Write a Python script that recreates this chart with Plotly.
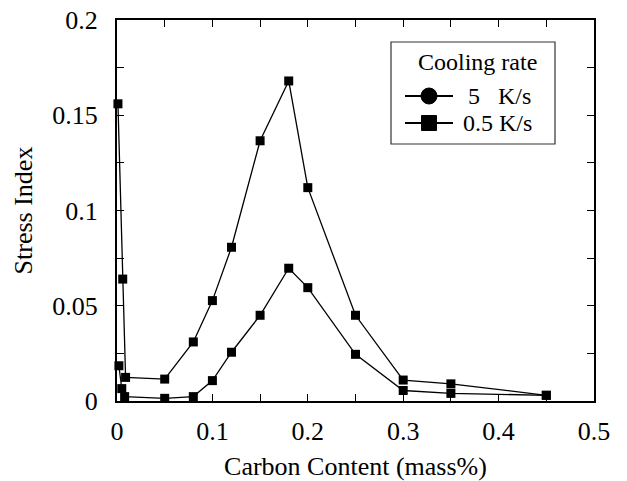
import plotly.graph_objects as go

# Data
x_fast = [0.001, 0.006, 0.009, 0.05, 0.08, 0.10, 0.12, 0.15, 0.18, 0.20, 0.25, 0.30, 0.35, 0.45]
y_fast = [0.156, 0.064, 0.0124, 0.0115, 0.031, 0.0527, 0.0807, 0.1366, 0.168, 0.112, 0.045, 0.011, 0.009, 0.003]
x_slow = [0.002, 0.005, 0.008, 0.05, 0.08, 0.10, 0.12, 0.15, 0.18, 0.20, 0.25, 0.30, 0.35, 0.45]
y_slow = [0.0185, 0.0065, 0.0023, 0.0014, 0.0023, 0.0107, 0.0256, 0.045, 0.0697, 0.0595, 0.0245, 0.0055, 0.004, 0.003]

x_tickvals = [0, 0.05, 0.1, 0.15, 0.2, 0.25, 0.3, 0.35, 0.4, 0.45, 0.5]
x_ticktext = ["0", "", "0.1", "", "0.2", "", "0.3", "", "0.4", "", "0.5"]
y_tickvals = [0, 0.025, 0.05, 0.075, 0.1, 0.125, 0.15, 0.175, 0.2]
y_ticktext = ["0", "", "0.05", "", "0.1", "", "0.15", "", "0.2"]

legend_title = "Cooling rate"
legend_labels = ["5   K/s", "0.5 K/s"]

FONT = "Liberation Serif, Times New Roman, serif"
W, H = 627, 481
L, R, T, B = 117, 33, 20, 80
PW, PH = W - L - R, H - T - B


def px(X):
    return (X - L) / PW


def py(Y):
    return (H - B - Y) / PH


fig = go.Figure()
for xs, ys in [(x_fast, y_fast), (x_slow, y_slow)]:
    fig.add_trace(go.Scatter(x=xs, y=ys, mode="lines+markers",
                             line=dict(color="black", width=1.3),
                             marker=dict(symbol="square", size=9, color="black"),
                             showlegend=False, cliponaxis=False))

axis_common = dict(showline=True, linecolor="black", linewidth=2, mirror="allticks",
                   ticks="inside", ticklen=7, tickwidth=1.3, tickcolor="black",
                   showgrid=False, zeroline=False, automargin=False,
                   tickfont=dict(family=FONT, size=26, color="black"))

fig.update_xaxes(range=[0, 0.5], tickmode="array", tickvals=x_tickvals, ticktext=x_ticktext,
                 ticklabelstandoff=6,
                 title=dict(text="Carbon Content (mass%)", font=dict(family=FONT, size=26, color="black"),
                            standoff=12),
                 **axis_common)
fig.update_yaxes(range=[0, 0.2], tickmode="array", tickvals=y_tickvals, ticktext=y_ticktext,
                 ticklabelstandoff=12,
                 title=dict(text="Stress Index", font=dict(family=FONT, size=26, color="black"),
                            standoff=12),
                 **axis_common)

# Custom legend box (decoration)
shapes = [dict(type="rect", xref="paper", yref="paper",
               x0=px(391), x1=px(555), y0=py(144), y1=py(42),
               line=dict(color="#333333", width=1.2), fillcolor="white", layer="above")]
annotations = [dict(x=px(477), y=py(62), xref="paper", yref="paper", text=legend_title,
                    showarrow=False, xanchor="center", yanchor="middle",
                    font=dict(family=FONT, size=24, color="black"))]
row_y = [96, 123]
for i, (lab, yy) in enumerate(zip(legend_labels, row_y)):
    shapes.append(dict(type="line", xref="paper", yref="paper",
                       x0=px(405), x1=px(453), y0=py(yy), y1=py(yy),
                       line=dict(color="black", width=2), layer="above"))
    if i == 0:
        shapes.append(dict(type="circle", xref="paper", yref="paper",
                           x0=px(421), x1=px(437), y0=py(yy + 8), y1=py(yy - 8),
                           line=dict(color="black", width=1), fillcolor="black", layer="above"))
    else:
        shapes.append(dict(type="rect", xref="paper", yref="paper",
                           x0=px(421.5), x1=px(436.5), y0=py(yy + 7.5), y1=py(yy - 7.5),
                           line=dict(color="black", width=1), fillcolor="black", layer="above"))
    annotations.append(dict(x=px(461 if i == 1 else 466), y=py(yy), xref="paper", yref="paper",
                            text=lab.replace(" ", "&nbsp;"), showarrow=False,
                            xanchor="left", yanchor="middle",
                            font=dict(family=FONT, size=24, color="black")))

fig.update_layout(
    width=W, height=H,
    margin=dict(l=L, r=R, t=T, b=B),
    plot_bgcolor="white", paper_bgcolor="white",
    font=dict(family=FONT, size=26, color="black"),
    showlegend=False,
    shapes=shapes,
    annotations=annotations,
)

fig.write_html("out.html")
